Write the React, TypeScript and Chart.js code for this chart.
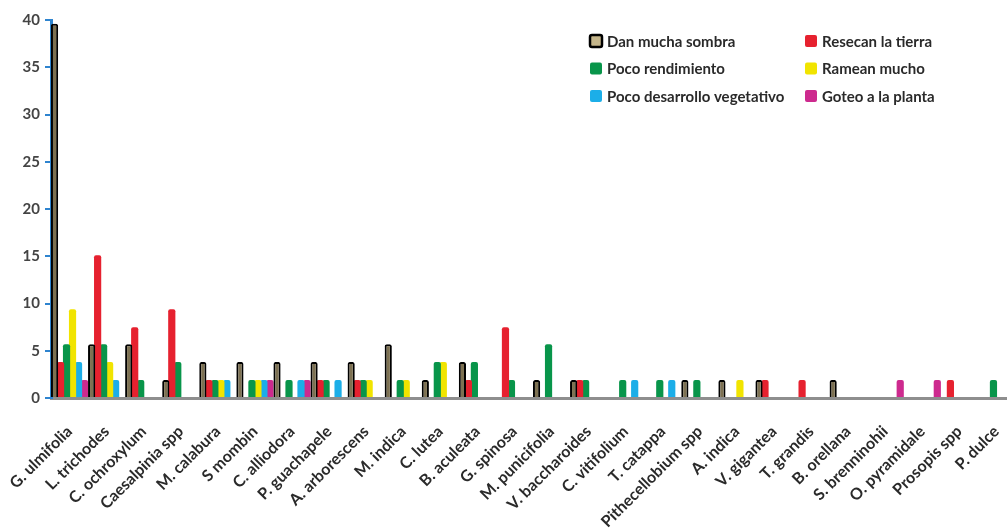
import React, { useEffect, useRef } from "react";
import { Chart, registerables } from "chart.js";

Chart.register(...registerables);

const species = [
  "G. ulmifolia", "L. trichodes", "C. ochroxylum", "Caesalpinia spp", "M. calabura",
  "S mombin", "C. alliodora", "P. guachapele", "A. arborescens", "M. indica",
  "C. lutea", "B. aculeata", "G. spinosa", "M. punicifolia", "V. baccharoides",
  "C. vitifolium", "T. catappa", "Pithecellobium spp", "A. indica", "V. gigantea",
  "T. grandis", "B. orellana", "S. brenninohii", "O. pyramidale", "Prosopis spp", "P. dulce",
];

const danMuchaSombra = [39.6, 5.7, 5.7, 1.9, 3.8, 3.8, 3.8, 3.8, 3.8, 5.7, 1.9, 3.8, 0, 1.9, 1.9, 0, 0, 1.9, 1.9, 1.9, 0, 1.9, 0, 0, 0, 0];
const resecanLaTierra = [3.8, 15.1, 7.5, 9.4, 1.9, 0, 0, 1.9, 1.9, 0, 0, 1.9, 7.5, 0, 1.9, 0, 0, 0, 0, 1.9, 1.9, 0, 0, 0, 1.9, 0];
const pocoRendimiento = [5.7, 5.7, 1.9, 3.8, 1.9, 1.9, 1.9, 1.9, 1.9, 1.9, 3.8, 3.8, 1.9, 5.7, 1.9, 1.9, 1.9, 1.9, 0, 0, 0, 0, 0, 0, 0, 1.9];
const rameanMucho = [9.4, 3.8, 0, 0, 1.9, 1.9, 0, 0, 1.9, 1.9, 3.8, 0, 0, 0, 0, 0, 0, 0, 1.9, 0, 0, 0, 0, 0, 0, 0];
const pocoDesarrollo = [3.8, 1.9, 0, 0, 1.9, 1.9, 1.9, 1.9, 0, 0, 0, 0, 0, 0, 0, 1.9, 1.9, 0, 0, 0, 0, 0, 0, 0, 0, 0];
const goteoALaPlanta = [1.9, 0, 0, 0, 0, 1.9, 1.9, 0, 0, 0, 0, 0, 0, 0, 0, 0, 0, 0, 0, 0, 0, 0, 1.9, 1.9, 0, 0];

const yTicks = [0, 5, 10, 15, 20, 25, 30, 35, 40];

const FONT = "Lato, 'Open Sans', sans-serif";

const series = [
  { label: "Dan mucha sombra", data: danMuchaSombra, fill: "#7d7152", key: "#c4b58a", border: "#000000" },
  { label: "Resecan la tierra", data: resecanLaTierra, fill: "#e6212f", key: "#e6212f", border: null },
  { label: "Poco rendimiento", data: pocoRendimiento, fill: "#08954a", key: "#08954a", border: null },
  { label: "Ramean mucho", data: rameanMucho, fill: "#f1e400", key: "#f1e400", border: null },
  { label: "Poco desarrollo vegetativo", data: pocoDesarrollo, fill: "#1caee8", key: "#1caee8", border: null },
  { label: "Goteo a la planta", data: goteoALaPlanta, fill: "#cd2a8e", key: "#cd2a8e", border: null },
];

// Two-column legend drawn in the upper right of the plot
const gridLegend = {
  id: "gridLegend",
  afterDraw(chart: any) {
    const ctx = chart.ctx;
    ctx.save();
    ctx.font = `bold 15px ${FONT}`;
    ctx.textBaseline = "middle";
    ctx.textAlign = "left";
    series.forEach((s, i) => {
      const col = i % 2;
      const row = Math.floor(i / 2);
      const x = col === 0 ? 590 : 805;
      const y = 41 + row * 27.5;
      ctx.beginPath();
      if ((ctx as any).roundRect) (ctx as any).roundRect(x, y - 6, 12, 12, 2);
      else ctx.rect(x, y - 6, 12, 12);
      ctx.fillStyle = s.key;
      ctx.fill();
      if (s.border) {
        ctx.lineWidth = 2.5;
        ctx.strokeStyle = s.border;
        ctx.stroke();
      }
      ctx.fillStyle = "#2a2a2a";
      ctx.fillText(s.label, x + 17, y + 1);
    });
    ctx.restore();
  },
};

export default function App() {
  const canvasRef = useRef<HTMLCanvasElement | null>(null);

  useEffect(() => {
    if (!canvasRef.current) return;
    const chart = new Chart(canvasRef.current, {
      type: "bar",
      data: {
        labels: species,
        datasets: series.map((s) => ({
          label: s.label,
          data: s.data,
          backgroundColor: s.fill,
          borderColor: s.border || s.fill,
          borderWidth: s.border ? { left: 2, right: 2, top: 2, bottom: 0 } : 0,
          borderSkipped: "bottom",
          borderRadius: { topLeft: 2, topRight: 2, bottomLeft: 0, bottomRight: 0 },
          categoryPercentage: 0.97,
          barPercentage: 1.2,
        })),
      },
      options: {
        responsive: false,
        animation: false,
        devicePixelRatio: 1,
        layout: { padding: { top: 20, left: 0, right: 1, bottom: 0 } },
        plugins: {
          legend: { display: false },
          tooltip: { enabled: false },
        },
        scales: {
          x: {
            grid: { display: false, drawTicks: false },
            border: { display: true, color: "#8e8e8e", width: 3 },
            ticks: {
              autoSkip: false,
              maxRotation: 45,
              minRotation: 45,
              padding: 24,
              color: "#2a2a2a",
              font: { family: FONT, size: 16, weight: "bold" },
            },
            afterFit: (scale: any) => {
              scale.height = 130;
              scale.paddingLeft = 0;
              scale.paddingRight = 0;
            },
          },
          y: {
            min: 0,
            max: 40,
            afterBuildTicks: (scale: any) => {
              scale.ticks = yTicks.map((v) => ({ value: v }));
            },
            grid: {
              drawOnChartArea: false,
              drawTicks: true,
              tickLength: 6,
              color: "#2e84cf",
              lineWidth: 2,
            },
            border: { display: true, color: "#2e84cf", width: 3 },
            ticks: {
              padding: 5,
              color: "#444444",
              font: { family: FONT, size: 15, weight: "bold" },
            },
            afterFit: (scale: any) => {
              scale.width = 51;
              scale.paddingTop = 0;
              scale.paddingBottom = 0;
            },
          },
        },
      },
      plugins: [gridLegend],
    });
    return () => chart.destroy();
  }, []);

  return (
    <div
      style={{
        position: "absolute",
        left: 0,
        top: 0,
        width: 1007,
        height: 528,
        overflow: "hidden",
        background: "#ffffff",
      }}
    >
      <canvas ref={canvasRef} width={1016} height={528} style={{ width: 1016, height: 528, display: "block" }} />
    </div>
  );
}
